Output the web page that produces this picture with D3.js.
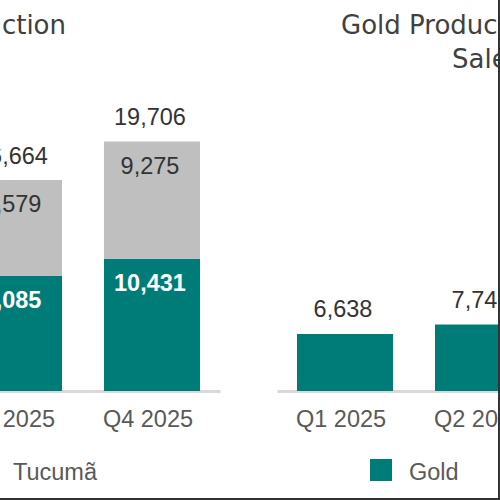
<!DOCTYPE html>
<html>
<head>
<meta charset="utf-8">
<script src="https://cdn.jsdelivr.net/npm/d3@7"></script>
<style>
  html, body { margin: 0; padding: 0; background: #fff; }
  svg { display: block; }
  text { font-family: "Liberation Sans", Arial, sans-serif; }
</style>
</head>
<body>
<svg id="chart" width="500" height="500"></svg>
<script>
// ---- data ----
const quarters = ["Q1 2025", "Q2 2025", "Q3 2025", "Q4 2025"];
// Copper production (left chart), stacked: Caraíba (teal) + Tucumã (grey); only Q3/Q4 visible
const copperCaraiba = [null, null, 9085, 10431];
const copperTucuma  = [null, null, 7579, 9275];
const copperTotal   = [null, null, 16664, 19706];
// Gold production (right chart); only Q1/Q2 visible
const goldValues = [6638, 7743, null, null];
const leftTitle = "Copper Production";
const rightTitleLines = ["Gold Production and", "Sales"];
const leftLegend = ["Caraíba", "Tucumã"];
const rightLegend = ["Gold"];

// ---- styles ----
const TEAL = "#007C78", GREY = "#BFBFBF", BASE = "#D9D9D9";
const LABEL = "#333333", AXIS = "#595959", TITLE = "#404040";
const FS = "23.5px";
const TITLE_FONT = '"DejaVu Sans", Verdana, sans-serif';

const svg = d3.select("#chart");
const baseY = 391;

function makeChart(xRange, yTop) {
  const x = d3.scaleBand().domain(quarters).range(xRange)
    .paddingInner(0.304).paddingOuter(0.145);
  const y = d3.scaleLinear().domain([0, 20000]).range([baseY, yTop]);
  const axis = svg.append("g").attr("transform", `translate(0,${baseY})`)
    .call(d3.axisBottom(x).tickSize(0).tickSizeOuter(0).tickPadding(19));
  axis.select(".domain").attr("stroke", BASE).attr("stroke-width", 3);
  axis.selectAll("text").attr("fill", AXIS).style("font-size", FS)
    .style("font-family", '"Liberation Sans", Arial, sans-serif').attr("dx", -4);
  return { x, y };
}

// ---------- Left chart: Copper ----------
const L = makeChart([-330, 220], baseY - 20000 * 0.012661);
const leftData = quarters.map((q, i) => ({
  q, a: copperCaraiba[i], b: copperTucuma[i], t: copperTotal[i]
})).filter(d => d.a != null);

const lg = svg.append("g");
lg.selectAll("rect.a").data(leftData).join("rect").attr("class", "a")
  .attr("x", d => L.x(d.q)).attr("width", L.x.bandwidth())
  .attr("y", d => L.y(d.a)).attr("height", d => L.y(0) - L.y(d.a))
  .attr("fill", TEAL);
lg.selectAll("rect.b").data(leftData).join("rect").attr("class", "b")
  .attr("x", d => L.x(d.q)).attr("width", L.x.bandwidth())
  .attr("y", d => L.y(d.a + d.b)).attr("height", d => L.y(d.a) - L.y(d.a + d.b))
  .attr("fill", GREY);
const fmt = d3.format(",");
const cx = (sc, q) => sc(q) + sc.bandwidth() / 2 - 2;
lg.selectAll("text.a").data(leftData).join("text").attr("class", "a")
  .attr("x", d => cx(L.x, d.q)).attr("y", d => L.y(d.a) + 32)
  .attr("text-anchor", "middle").attr("fill", "#fff").attr("font-weight", "bold")
  .style("font-size", FS).text(d => fmt(d.a));
lg.selectAll("text.b").data(leftData).join("text").attr("class", "b")
  .attr("x", d => cx(L.x, d.q)).attr("y", d => L.y(d.a + d.b) + 32)
  .attr("text-anchor", "middle").attr("fill", LABEL)
  .style("font-size", FS).text(d => fmt(d.b));
lg.selectAll("text.t").data(leftData).join("text").attr("class", "t")
  .attr("x", d => cx(L.x, d.q)).attr("y", d => L.y(d.t) - 16.5)
  .attr("text-anchor", "middle").attr("fill", LABEL)
  .style("font-size", FS).text(d => fmt(d.t));

// left title (right end visible at x≈65)
svg.append("text").attr("x", 66).attr("y", 34)
  .attr("text-anchor", "end").attr("fill", TITLE).style("font-size", "26px")
  .style("font-family", TITLE_FONT).text(leftTitle);

// left legend
const legL = svg.append("g");
[[TEAL, leftLegend[0], -190], [GREY, leftLegend[1], -26]].forEach(([c, t, x0]) => {
  legL.append("rect").attr("x", x0).attr("y", 459).attr("width", 22).attr("height", 22).attr("fill", c);
  legL.append("text").attr("x", x0 + 39).attr("y", 480).attr("fill", AXIS)
    .style("font-size", FS).text(t);
});

// ---------- Right chart: Gold ----------
const R = makeChart([277, 827], baseY - 20000 * 0.008587);
const rightData = quarters.map((q, i) => ({ q, v: goldValues[i] })).filter(d => d.v != null);
const rg = svg.append("g");
rg.selectAll("rect").data(rightData).join("rect")
  .attr("x", d => R.x(d.q)).attr("width", R.x.bandwidth())
  .attr("y", d => R.y(d.v)).attr("height", d => R.y(0) - R.y(d.v))
  .attr("fill", TEAL);
rg.selectAll("text").data(rightData).join("text")
  .attr("x", d => cx(R.x, d.q)).attr("y", d => R.y(d.v) - 16.5)
  .attr("text-anchor", "middle").attr("fill", LABEL)
  .style("font-size", FS).text(d => fmt(d.v));

// right title
svg.append("text").attr("x", 341).attr("y", 34).attr("fill", TITLE)
  .style("font-size", "26px").style("font-family", TITLE_FONT).text(rightTitleLines[0]);
svg.append("text").attr("x", 452).attr("y", 68).attr("fill", TITLE)
  .style("font-size", "26px").style("font-family", TITLE_FONT).text(rightTitleLines[1]);

// right legend
svg.append("rect").attr("x", 370).attr("y", 459).attr("width", 22).attr("height", 22).attr("fill", TEAL);
svg.append("text").attr("x", 409).attr("y", 480).attr("fill", AXIS)
  .style("font-size", FS).text(rightLegend[0]);

// frame edges (right & bottom)
svg.append("line").attr("x1", 499).attr("x2", 499).attr("y1", 0).attr("y2", 500)
  .attr("stroke", "#333").attr("stroke-width", 2);
svg.append("line").attr("x1", 0).attr("x2", 500).attr("y1", 499).attr("y2", 499)
  .attr("stroke", "#333").attr("stroke-width", 2);
</script>
</body>
</html>
